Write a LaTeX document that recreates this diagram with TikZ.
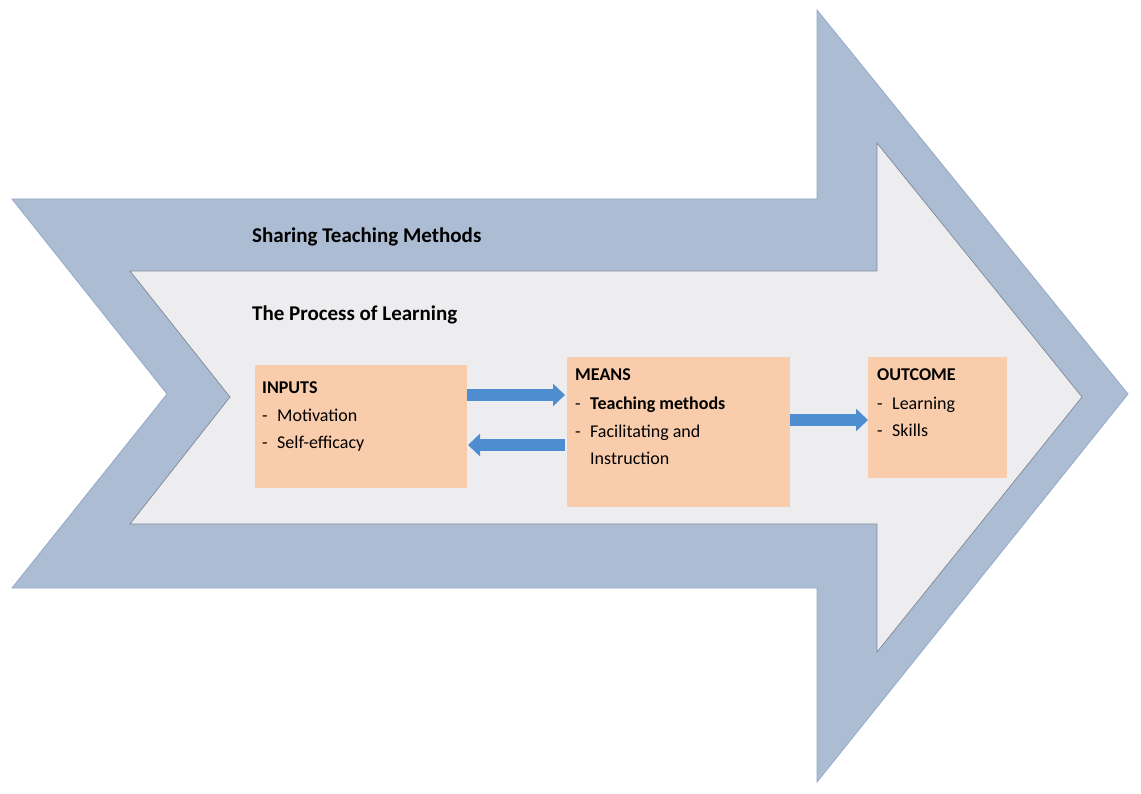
\documentclass[tikz,border=0pt]{standalone}
\usepackage{fontspec}
\setmainfont{Carlito}
\usetikzlibrary{arrows.meta}
\definecolor{band}{RGB}{171,188,211}
\definecolor{bandedge}{RGB}{150,170,198}
\definecolor{innerfill}{RGB}{237,237,240}
\definecolor{inneredge}{RGB}{125,135,150}
\definecolor{boxfill}{RGB}{249,204,172}
\definecolor{arrowblue}{RGB}{78,142,208}
\newcommand{\dashitem}[1]{\makebox[15pt][l]{-}#1}
\begin{document}
\begin{tikzpicture}[x=1pt,y=-1pt,
  boxstyle/.style={draw=none,fill=boxfill,inner sep=0pt,outer sep=0pt,anchor=north west},
  txt/.style={anchor=base west,inner sep=0pt,font=\fontsize{18}{22}\selectfont},
  headtxt/.style={anchor=base west,inner sep=0pt,font=\fontsize{21}{25}\selectfont\bfseries},
  barrow/.style={draw=arrowblue,line width=12pt,-{Triangle[length=12pt,width=22pt]}}]
\useasboundingbox (0,0) rectangle (1141,794);
\fill[white] (0,0) rectangle (1141,794);
% outer band arrow
\filldraw[fill=band,draw=bandedge,line width=0.8pt]
  (12,199) -- (817,199) -- (817,10) -- (1128,394) -- (817,782) -- (817,588) -- (12,588) -- (167,394) -- cycle;
% inner arrow
\filldraw[fill=innerfill,draw=inneredge,line width=0.7pt]
  (130,271) -- (877,271) -- (877,143) -- (1082,397) -- (877,652) -- (877,524) -- (130,524) -- (230,397) -- cycle;
% headings
\node[headtxt] (sharing) at (252,243) {Sharing Teaching Methods};
\node[headtxt] (process) at (252,321) {The Process of Learning};
% boxes
\node[boxstyle,minimum width=212pt,minimum height=123pt] (inputs) at (255,365) {};
\node[boxstyle,minimum width=223pt,minimum height=150pt] (means) at (567,357) {};
\node[boxstyle,minimum width=139pt,minimum height=121pt] (outcome) at (868,357) {};
% box texts
\node[txt] (in1) at (262,393) {\textbf{INPUTS}};
\node[txt] (in2) at (262,421) {\dashitem{Motivation}};
\node[txt] (in3) at (262,448) {\dashitem{Self-efficacy}};
\node[txt] (me1) at (575,381) {\textbf{MEANS}};
\node[txt] (me2) at (575,409) {\dashitem{\textbf{Teaching methods}}};
\node[txt] (me3) at (575,437) {\dashitem{Facilitating and}};
\node[txt] (me4) at (590,464) {Instruction};
\node[txt] (ou1) at (877,381) {\textbf{OUTCOME}};
\node[txt] (ou2) at (877,409) {\dashitem{Learning}};
\node[txt] (ou3) at (877,436) {\dashitem{Skills}};
% connectors
\coordinate (a1) at ([yshift=31.5pt]inputs.east);
\coordinate (a2) at ([yshift=-18.5pt]inputs.east);
\coordinate (a3) at ([yshift=-2.5pt]outcome.west);
\draw[barrow] (a1) -- ([xshift=-2pt]a1 -| means.west);
\draw[barrow] ([xshift=-2pt]a2 -| means.west) -- ([xshift=1pt]a2);
\draw[barrow] (a3 -| means.east) -- (a3);
\end{tikzpicture}
\end{document}
